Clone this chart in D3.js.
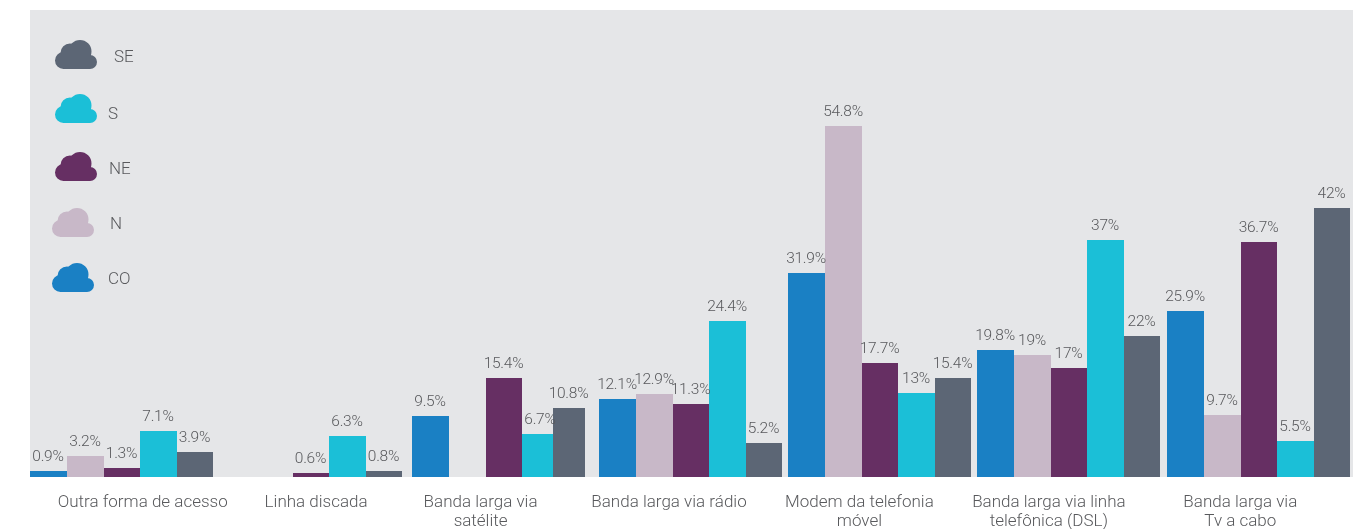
<!DOCTYPE html>
<html lang="pt">
<head>
<meta charset="utf-8">
<title>Formas de acesso à internet por região</title>
<script src="https://cdn.jsdelivr.net/npm/d3@7/dist/d3.min.js"></script>
<style>
  html, body { margin: 0; padding: 0; background: #fff; overflow: hidden; }
  svg { display: block; will-change: transform; }
  text { font-family: Roboto, Lato, sans-serif; font-weight: 300; fill: #58595c; }
  .value { font-size: 15.5px; letter-spacing: -0.25px; }
  .category { font-size: 17px; }
  .legend-name { font-size: 17px; }
</style>
</head>
<body>
<svg id="chart" width="1359" height="529"></svg>
<script>
// Share of connections by access type, per Brazilian region (%)
const categories = [
  ["Outra forma de acesso"],
  ["Linha discada"],
  ["Banda larga via", "satélite"],
  ["Banda larga via rádio"],
  ["Modem da telefonia", "móvel"],
  ["Banda larga via linha", "telefônica (DSL)"],
  ["Banda larga via", "Tv a cabo"]
];
const regions = ["CO", "N", "NE", "S", "SE"];
const colors = ["#1a80c4", "#c8b8c8", "#662f63", "#1bbfd7", "#5c6675"];

const valuesCO = [0.9, null, 9.5, 12.1, 31.9, 19.8, 25.9];
const valuesN  = [3.2, null, null, 12.9, 54.8, 19, 9.7];
const valuesNE = [1.3, 0.6, 15.4, 11.3, 17.7, 17, 36.7];
const valuesS  = [7.1, 6.3, 6.7, 24.4, 13, 37, 5.5];
const valuesSE = [3.9, 0.8, 10.8, 5.2, 15.4, 22, 42];
const seriesValues = [valuesCO, valuesN, valuesNE, valuesS, valuesSE];

const svg = d3.select("#chart");
const baseline = 477;

svg.append("rect")
  .attr("x", 30).attr("y", 10)
  .attr("width", 1323).attr("height", baseline - 10)
  .attr("fill", "#e5e6e8");

const keys = categories.map(c => c.join(" "));
const x0 = d3.scaleBand().domain(keys).range([30, 1350]).paddingInner(0.032).paddingOuter(0);
const x1 = d3.scaleBand().domain(regions).range([0, 184]);
const y = d3.scaleLinear().domain([0, 73.1]).range([baseline, 10]);

// The satellite group sits a little right of its slot, and its last bar is
// narrower and laps over the bar beside it.
const groupShift = [0, 0, 3, 1, 0, 0, 0];
function barBox(key, region) {
  const start = Math.round(x0(key)) + groupShift[keys.indexOf(key)];
  const a = Math.round(x1(region));
  const b = Math.min(Math.round(x1(region) + x1.bandwidth()), 183);
  if (key === keys[2] && region === "SE") return { x: start + a - 6, w: 32 };
  return { x: start + a, w: b - a };
}
const barTop = v => Math.floor(y(v));

const bars = regions.flatMap((region, r) =>
  keys.map((key, c) => ({ key, region, value: seriesValues[r][c], color: colors[r] }))
).filter(d => d.value !== null);

svg.append("g").selectAll("rect")
  .data(bars)
  .join("rect")
  .attr("shape-rendering", "crispEdges")
  .attr("x", d => barBox(d.key, d.region).x)
  .attr("width", d => barBox(d.key, d.region).w)
  .attr("y", d => barTop(d.value))
  .attr("height", d => baseline - barTop(d.value))
  .attr("fill", d => d.color);

svg.append("g").selectAll("text")
  .data(bars)
  .join("text")
  .attr("class", "value")
  .attr("text-anchor", "middle")
  .attr("x", d => { const b = barBox(d.key, d.region); return b.x + b.w / 2 - 0.5; })
  .attr("y", d => barTop(d.value) - 10)
  .text(d => d.value + "%");

// Category captions run off-centre from their bars
const captionShift = [21, 5, -20, -21, -20, -20, -18];
const axis = svg.append("g")
  .attr("transform", `translate(0,${baseline})`)
  .call(d3.axisBottom(x0).tickSize(0).tickPadding(0));
axis.select(".domain").remove();
axis.selectAll(".tick text").each(function (key, i) {
  const t = d3.select(this).attr("class", "category").attr("fill", null).attr("y", 0).attr("dy", null).text(null);
  categories[i].forEach((line, n) => {
    t.append("tspan")
      .attr("x", captionShift[i])
      .attr("y", 30 + n * 18.5)
      .text(line);
  });
});
axis.attr("font-size", null).attr("font-family", null);

// Cloud glyph: four overlapping lobes on a flat base, 42 wide by 29 tall
function cloudPath() {
  const p = d3.path();
  [[8.5, 20.5, 8.5], [35, 22, 7], [25, 11.5, 11.5], [15, 13, 9.5]].forEach(([cx, cy, r]) => {
    p.moveTo(cx + r, cy);
    p.arc(cx, cy, r, 0, 2 * Math.PI);
    p.closePath();
  });
  p.moveTo(8.5, 12);
  p.lineTo(35, 12);
  p.lineTo(35, 29);
  p.lineTo(8.5, 29);
  p.closePath();
  return p.toString();
}

const legendOrder = ["SE", "S", "NE", "N", "CO"];
const legendSpots = [
  { cx: 55, cy: 40, tx: 114, ty: 62 },
  { cx: 55, cy: 94, tx: 108, ty: 119 },
  { cx: 55, cy: 152, tx: 109, ty: 174 },
  { cx: 52, cy: 208, tx: 110, ty: 229 },
  { cx: 52, cy: 263, tx: 108, ty: 284 }
];
const legend = svg.append("g").selectAll("g")
  .data(legendOrder)
  .join("g");
legend.append("path")
  .attr("d", cloudPath())
  .attr("transform", (d, i) => `translate(${legendSpots[i].cx},${legendSpots[i].cy})`)
  .attr("fill", d => colors[regions.indexOf(d)]);
legend.append("text")
  .attr("class", "legend-name")
  .attr("x", (d, i) => legendSpots[i].tx)
  .attr("y", (d, i) => legendSpots[i].ty)
  .text(d => d);
</script>
</body>
</html>
